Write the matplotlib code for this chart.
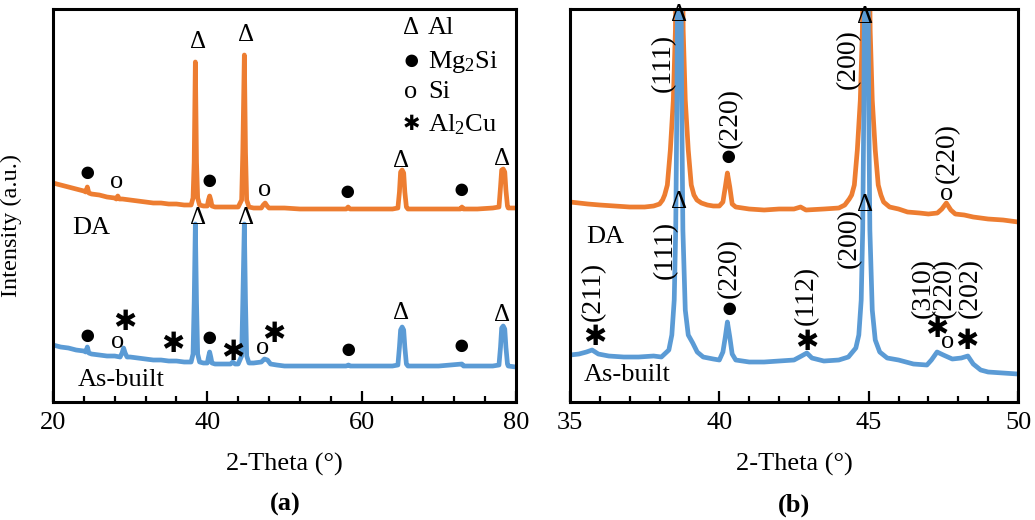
import matplotlib
matplotlib.use("Agg")
import matplotlib.pyplot as plt
from matplotlib.ticker import MultipleLocator

plt.rcParams['font.family'] = ['Liberation Serif', 'DejaVu Sans']
plt.rcParams['mathtext.fontset'] = 'custom'
plt.rcParams['mathtext.rm'] = 'Liberation Serif'
plt.rcParams['mathtext.it'] = 'Liberation Serif:italic'

ORANGE = '#ED7D31'
BLUE = '#5B9BD5'

# XRD patterns, (2-theta, intensity a.u.) -- full scan 20-80
da_wide = [(20, 219), (21, 217), (22, 215), (23, 213), (24, 211), (24.25, 210), (24.45, 215),
           (24.65, 209), (25, 208), (26, 207), (27, 205), (28, 204), (28.2, 203), (28.4, 206),
           (28.6, 203), (29, 203), (30, 202), (31, 201), (32, 200), (33, 199), (34, 199),
           (35, 198), (36, 198), (37, 197), (37.9, 197), (38.15, 204), (38.3, 240), (38.45, 340),
           (38.6, 240), (38.75, 204), (39, 197), (39.5, 196), (40, 196), (40.15, 202), (40.3, 206),
           (40.45, 202), (40.6, 196), (41, 195), (42, 195), (43, 195), (44, 195), (44.45, 202),
           (44.6, 250), (44.8, 347), (44.95, 250), (45.1, 202), (45.4, 195), (46, 194), (47, 194),
           (47.25, 197), (47.5, 199), (47.75, 196), (48, 194), (49, 194), (50, 194), (52, 193),
           (54, 193), (56, 193), (58, 193), (58.25, 195), (58.5, 193), (60, 193), (62, 193),
           (64, 193), (64.7, 194), (64.9, 210), (65.05, 230), (65.25, 232), (65.45, 229),
           (65.6, 210), (65.8, 195), (66, 193), (68, 193), (70, 193), (72, 193), (72.8, 193),
           (73, 195), (73.2, 193), (75, 193), (77, 194), (77.8, 195), (78, 215), (78.15, 232),
           (78.35, 233), (78.55, 230), (78.7, 212), (78.9, 196), (79, 194), (80, 194)]

ab_wide = [(20, 57), (21, 55), (22, 54), (23, 52), (24, 51), (24.25, 50), (24.45, 55), (24.65, 49),
           (25, 48), (26, 47), (27, 46), (28, 46), (28.7, 45), (28.95, 49), (29.15, 54), (29.35, 49),
           (29.6, 45), (30, 45), (31, 44), (32, 43), (33, 42), (34, 42), (35, 41), (36, 41),
           (37, 40), (37.9, 40), (38.15, 48), (38.3, 100), (38.45, 178), (38.6, 100), (38.75, 48),
           (39, 40), (39.5, 39), (40, 39), (40.15, 45), (40.3, 50), (40.45, 45), (40.6, 39),
           (41, 38), (42, 38), (43, 38), (43.3, 40), (43.6, 38), (44, 38), (44.45, 46), (44.6, 100),
           (44.8, 178), (44.95, 100), (45.1, 46), (45.4, 39), (46, 39), (47, 40), (47.4, 43),
           (47.8, 42), (48.2, 38), (49, 37), (50, 36), (52, 36), (55, 36), (58, 36), (58.3, 37),
           (58.5, 36), (60, 36), (62, 36), (64, 36), (64.7, 37), (64.9, 55), (65.05, 72),
           (65.25, 75), (65.45, 72), (65.6, 55), (65.8, 38), (66, 36), (68, 36), (70, 36),
           (73, 38), (73.2, 36), (75, 36), (77, 36), (77.8, 37), (78, 55), (78.15, 74), (78.35, 76),
           (78.55, 73), (78.7, 55), (78.9, 38), (79, 36), (80, 35)]

# detail scan 35-50
da_zoom = [(35, 200), (35.3, 199), (35.6, 198), (36, 197), (36.5, 196), (37, 195), (37.5, 195),
           (37.8, 196), (38, 198), (38.1, 202), (38.17, 207), (38.26, 217), (38.36, 252),
           (38.46, 302), (38.53, 372), (38.6, 560), (38.66, 700), (38.72, 560), (38.79, 372),
           (38.86, 302), (38.96, 252), (39.06, 217), (39.15, 207), (39.25, 202), (39.4, 199),
           (39.6, 197), (39.8, 196), (40, 196), (40.12, 200), (40.2, 215), (40.27, 229),
           (40.35, 215), (40.43, 198), (40.55, 195), (41, 193), (41.5, 192), (42, 193),
           (42.5, 193), (42.72, 195), (42.9, 192), (43.5, 193), (44, 194), (44.2, 197),
           (44.35, 203), (44.43, 207), (44.52, 217), (44.62, 252), (44.72, 302), (44.79, 372),
           (44.86, 560), (44.92, 700), (44.98, 560), (45.05, 372), (45.12, 302), (45.22, 252),
           (45.32, 217), (45.41, 207), (45.5, 200), (45.7, 195), (46, 193), (46.3, 190),
           (46.7, 189), (47, 188), (47.3, 189), (47.45, 193), (47.6, 199), (47.75, 192),
           (47.9, 188), (48.2, 187), (48.5, 185), (49, 183), (49.5, 182), (50, 180)]

ab_zoom = [(35, 47), (35.3, 48), (35.55, 50), (35.74, 52), (35.95, 48), (36.3, 46), (36.8, 45),
           (37.3, 45), (37.8, 46), (38.06, 45), (38.31, 52), (38.41, 67), (38.49, 102),
           (38.54, 172), (38.58, 302), (38.63, 600), (38.66, 640), (38.69, 600), (38.74, 302),
           (38.78, 172), (38.86, 92), (38.96, 67), (39.11, 59), (39.26, 50), (39.46, 45),
           (39.8, 43), (40, 42), (40.12, 50), (40.2, 65), (40.27, 80), (40.35, 65), (40.43, 48),
           (40.55, 42), (41, 40), (41.5, 40), (42, 41), (42.5, 42), (42.75, 46), (42.93, 49),
           (43.1, 44), (43.5, 41), (44, 42), (44.32, 45), (44.57, 54), (44.67, 67), (44.75, 102),
           (44.8, 172), (44.84, 302), (44.89, 600), (44.92, 640), (44.95, 600), (45, 302),
           (45.04, 172), (45.12, 92), (45.22, 62), (45.37, 50), (45.62, 44), (46, 42), (46.5, 38),
           (46.95, 37), (47.1, 42), (47.29, 50), (47.5, 47), (47.8, 43), (48.1, 44), (48.32, 46),
           (48.5, 38), (48.75, 32), (49, 30), (49.5, 29), (50, 28)]

# phase markers: (symbol, 2-theta, height)
wide_marks = [('●', 24.5, 228), ('o', 28.3, 220), ('Δ', 38.75, 360), ('Δ', 45.0, 367),
              ('●', 40.3, 220), ('o', 47.4, 212), ('●', 58.15, 209), ('Δ', 65.13, 241),
              ('●', 72.9, 211), ('Δ', 78.2, 243),
              ('●', 24.5, 65), ('o', 28.4, 60), ('✱', 29.3, 79), ('✱', 35.5, 57),
              ('Δ', 38.75, 184), ('Δ', 45.0, 184), ('●', 40.3, 63), ('✱', 43.3, 49),
              ('o', 47.15, 54), ('✱', 48.6, 67), ('●', 58.3, 51), ('Δ', 65.13, 89),
              ('●', 72.9, 55), ('Δ', 78.2, 87)]

zoom_marks = [('Δ', 38.65, 387), ('●', 40.29, 244), ('Δ', 44.88, 385), ('o', 47.62, 208),
              ('✱', 35.84, 64), ('Δ', 38.65, 200), ('●', 40.32, 92), ('✱', 42.93, 59),
              ('Δ', 44.88, 197), ('✱', 47.29, 72), ('o', 47.65, 60), ('✱', 48.29, 60)]

# Miller indices, rotated
hkl_labels = [('(111)', 38.11, 339), ('(220)', 40.36, 284), ('(200)', 44.31, 343),
              ('(220)', 47.62, 249),
              ('(211)', 35.77, 111), ('(111)', 38.18, 152), ('(220)', 40.32, 134),
              ('(112)', 42.93, 107), ('(200)', 44.37, 164), ('(310)', 46.82, 114),
              ('(220)', 47.55, 114), ('(202)', 48.39, 114)]

legend_sym = ['Δ', '●', 'o', '✱']
legend_txt = ['Al', 'Mg$_2$Si', 'Si', 'Al$_2$Cu']
legend_y = [374, 340, 310, 277]

sym_size = {'Δ': 18, '●': 21, 'o': 19, '✱': 20}
legend_sym_size = {'Δ': 18, '●': 21, 'o': 19, '✱': 15}


def draw_mark(ax, s, x, y, size=None):
    ax.text(x, y, s, ha='center', va='center', fontsize=size or sym_size[s], zorder=5)


def style_axes(ax, xmin, xmax, major, minor):
    ax.set_xlim(xmin, xmax)
    ax.set_ylim(0, 393)
    ax.set_yticks([])
    ax.xaxis.set_major_locator(MultipleLocator(major))
    ax.xaxis.set_minor_locator(MultipleLocator(minor))
    ax.tick_params(axis='x', which='major', direction='in', length=8, width=1.6, labelsize=19, pad=7)
    ax.tick_params(axis='x', which='minor', direction='in', length=4.5, width=1.6)
    for sp in ax.spines.values():
        sp.set_linewidth(2.2)
    ax.set_xlabel('2-Theta (°)', fontsize=19, labelpad=14)


fig = plt.figure(figsize=(10.35, 5.2), dpi=100)
ax1 = fig.add_axes([0.0512, 0.2269, 0.4473, 0.7558])
ax2 = fig.add_axes([0.5507, 0.2269, 0.4329, 0.7558])

# (a) full range
x, y = zip(*da_wide)
ax1.plot(x, y, color=ORANGE, lw=3.4, solid_joinstyle='round')
x, y = zip(*ab_wide)
ax1.plot(x, y, color=BLUE, lw=3.4, solid_joinstyle='round')
for s, tx, ty in wide_marks:
    draw_mark(ax1, s, tx, ty)
for s, t, ty in zip(legend_sym, legend_txt, legend_y):
    draw_mark(ax1, s, 66.4, ty, size=legend_sym_size[s])
    ax1.text(68.6, ty, t, ha='left', va='center', fontsize=19)
ax1.text(24.9, 174, 'DA', ha='center', va='center', fontsize=19)
ax1.text(28.9, 22, 'As-built', ha='center', va='center', fontsize=19)
ax1.set_ylabel('Intensity (a.u.)', fontsize=17.5)
ax1.yaxis.set_label_coords(-0.068, 0.448)
style_axes(ax1, 20, 80, 20, 4)

# (b) 35-50 detail
x, y = zip(*da_zoom)
ax2.plot(x, y, color=ORANGE, lw=3.4, solid_joinstyle='round')
x, y = zip(*ab_zoom)
ax2.plot(x, y, color=BLUE, lw=3.4, solid_joinstyle='round')
for s, tx, ty in zoom_marks:
    draw_mark(ax2, s, tx, ty)
for t, tx, ty in hkl_labels:
    ax2.text(tx, ty, t, rotation=90, ha='center', va='center', fontsize=20, zorder=5)
ax2.text(36.17, 165, 'DA', ha='center', va='center', fontsize=19)
ax2.text(36.9, 27, 'As-built', ha='center', va='center', fontsize=19)
style_axes(ax2, 35, 50, 5, 1)

fig.text(0.2752, 0.029, '(a)', ha='center', va='center', fontsize=19, fontweight='bold')
fig.text(0.7670, 0.029, '(b)', ha='center', va='center', fontsize=19, fontweight='bold')

fig.savefig('out.png', dpi=100)
